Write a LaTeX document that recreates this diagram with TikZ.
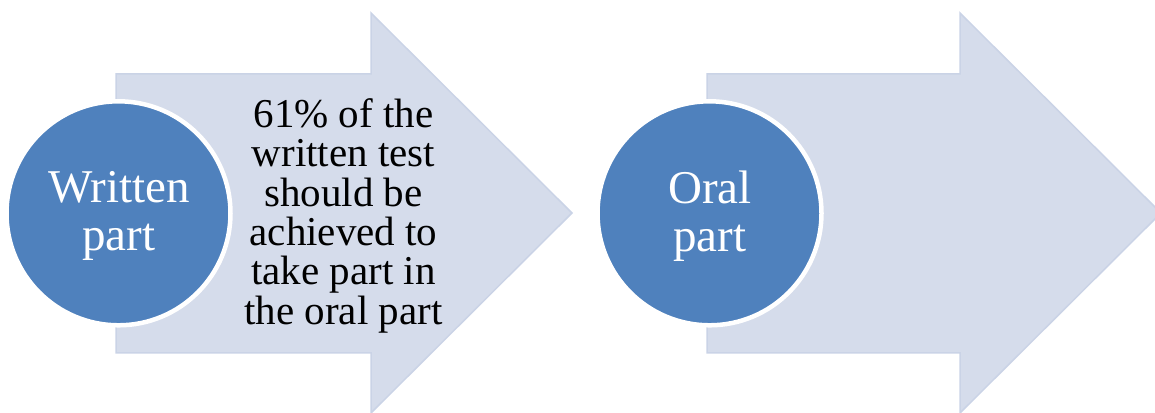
\documentclass[tikz,border=0pt]{standalone}
\usepackage{fontspec}
\setmainfont{Liberation Serif}
\usepackage{tikz}
\definecolor{arrowfill}{HTML}{D5DCEB}
\definecolor{arrowline}{HTML}{CAD3E6}
\definecolor{circfill}{HTML}{4F81BD}
\begin{document}
\begin{tikzpicture}[x=1pt,y=1pt,
  bigarrow/.style={fill=arrowfill,draw=arrowline,line width=1.5pt,line join=miter},
  partcircle/.style={circle,fill=circfill,draw=white,line width=4.5pt,minimum size=224pt,inner sep=0pt},
  circtext/.style={align=center,text=white,inner sep=0pt,font=\fontsize{47}{47.4}\selectfont},
  desc/.style={align=center,inner sep=0pt,font=\fontsize{41}{39.4}\selectfont,text=black}]
\useasboundingbox (0,0) rectangle (1155,412);
% arrow 1
\draw[bigarrow] (116,59) -- (116,338) -- (371,338) -- (371,399) -- (572,199) -- (371,-1) -- (371,59) -- cycle;
\node[partcircle] (w) at (118.5,198.7) {};
\node[circtext] (wt) at (119,196) {Written\\part};
\node[desc] (t) at (343.5,196.2) {61\% of the\\written test\\should be\\achieved to\\take part in\\the oral part};
% arrow 2
\draw[bigarrow] (707,59) -- (707,338) -- (960,338) -- (960,399) -- (1161,199) -- (960,-1) -- (960,59) -- cycle;
\node[partcircle] (o) at (709.5,198.7) {};
\node[circtext] (ot) at (710,196) {Oral\\part};
\end{tikzpicture}
\end{document}
